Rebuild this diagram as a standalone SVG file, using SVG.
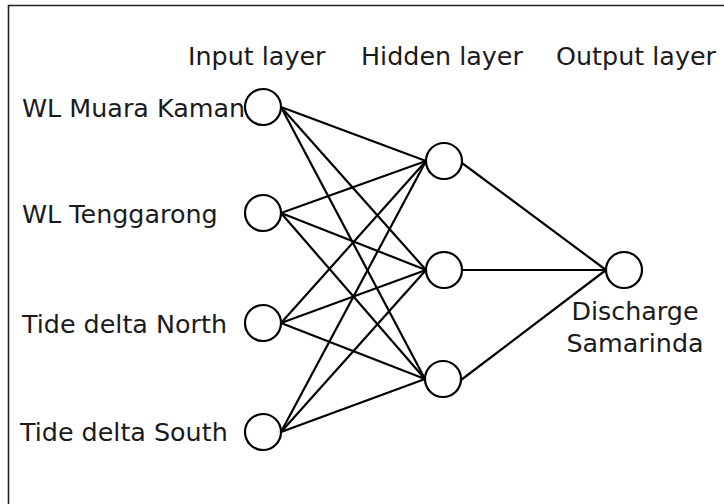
<svg xmlns="http://www.w3.org/2000/svg" width="724" height="504" viewBox="0 0 724 504">
<style>
text{font-family:"DejaVu Sans","Verdana",sans-serif;font-size:25.4px;fill:#1a1a1a}
.n{fill:#fff;stroke:#000;stroke-width:2.2}
.c line{stroke:#000;stroke-width:2.2}
</style>
<rect x="0" y="0" width="724" height="504" fill="#fff"/>
<path d="M8.5 530 V5.5 H740" fill="none" stroke="#222" stroke-width="1.6"/>
<text x="188" y="65">Input layer</text>
<text x="361" y="65">Hidden layer</text>
<text x="556" y="65">Output layer</text>
<g class="c" id="connectors">
<line x1="281" y1="107" x2="426" y2="161"/>
<line x1="281" y1="107" x2="426" y2="270"/>
<line x1="281" y1="107" x2="425" y2="379"/>
<line x1="281" y1="213" x2="426" y2="161"/>
<line x1="281" y1="213" x2="426" y2="270"/>
<line x1="281" y1="213" x2="425" y2="379"/>
<line x1="281" y1="323" x2="426" y2="161"/>
<line x1="281" y1="323" x2="426" y2="270"/>
<line x1="281" y1="323" x2="425" y2="379"/>
<line x1="281" y1="432" x2="426" y2="161"/>
<line x1="281" y1="432" x2="426" y2="270"/>
<line x1="281" y1="432" x2="425" y2="379"/>
<line x1="462" y1="163" x2="606" y2="270"/>
<line x1="462" y1="270" x2="606" y2="270"/>
<line x1="461" y1="380" x2="606" y2="270"/>
</g>
<g id="in1"><circle class="n" cx="263" cy="107" r="18"/><text x="22" y="117">WL Muara Kaman</text></g>
<g id="in2"><circle class="n" cx="263" cy="213" r="18"/><text x="22" y="223">WL Tenggarong</text></g>
<g id="in3"><circle class="n" cx="263" cy="323" r="18"/><text x="22" y="333">Tide delta North</text></g>
<g id="in4"><circle class="n" cx="263" cy="432" r="18"/><text x="20" y="441">Tide delta South</text></g>
<g id="h1"><circle class="n" cx="444" cy="161" r="18"/></g>
<g id="h2"><circle class="n" cx="444" cy="270" r="18"/></g>
<g id="h3"><circle class="n" cx="443" cy="379" r="18"/></g>
<g id="out"><circle class="n" cx="624" cy="270" r="18"/><text x="635" y="320" text-anchor="middle">Discharge</text><text x="635" y="352" text-anchor="middle">Samarinda</text></g>
</svg>
